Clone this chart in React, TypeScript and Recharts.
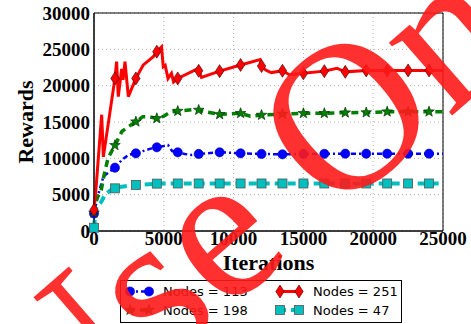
import React from "react";
import {
  CartesianGrid,
  Line,
  LineChart,
  ReferenceArea,
  XAxis,
  YAxis,
} from "recharts";

// iterations / rewards per run
const ITER_BLUE = [0, 300, 670, 1000, 1500, 2000, 2500, 3000, 3500, 4000, 4500, 5000, 5300, 5600, 6000, 6500, 7000, 7500, 9000, 10500, 12000, 13500, 15000, 16500, 18000, 19500, 21000, 22500, 24000, 25000];
const REWARD_BLUE = [2400, 5000, 7470, 8000, 8710, 9800, 10500, 10690, 11000, 11300, 11520, 11700, 11830, 11000, 10830, 10600, 10450, 10600, 10830, 10690, 10600, 10550, 10600, 10620, 10640, 10640, 10640, 10640, 10640, 10640];

const ITER_GREEN = [0, 200, 500, 700, 1000, 1500, 2000, 2500, 3000, 3500, 4000, 4500, 5000, 5500, 6000, 7000, 7500, 8000, 9000, 10500, 11200, 12000, 13500, 15000, 16500, 18000, 19500, 21000, 22500, 24000, 25000];
const REWARD_GREEN = [2500, 4500, 5400, 7500, 10000, 11800, 13700, 14400, 15040, 15730, 15700, 15500, 15800, 16400, 16500, 16700, 16650, 16400, 16050, 16200, 15800, 15960, 16100, 16200, 16200, 16280, 16300, 16420, 16420, 16420, 16420];

const ITER_RED = [0, 150, 550, 670, 1500, 1620, 1740, 1980, 2080, 2220, 2460, 3000, 3530, 4250, 4500, 4840, 4960, 5100, 5300, 5550, 5700, 6000, 7400, 7500, 7700, 9000, 10500, 11900, 12000, 12300, 12700, 13500, 14000, 15000, 16500, 17400, 18000, 19500, 21000, 22500, 24000, 25000];
const REWARD_RED = [2900, 6000, 16000, 10200, 21000, 23300, 18500, 22300, 20800, 23300, 18500, 21000, 22850, 24000, 24680, 25350, 22600, 22800, 21000, 21700, 20500, 21000, 22300, 22050, 21150, 22000, 22850, 23600, 22700, 22150, 21800, 22050, 21500, 21700, 22000, 22400, 21900, 22100, 22100, 22100, 22100, 22100];

const ITER_CYAN = [0, 80, 170, 520, 770, 1120, 1500, 2000, 3000, 4500, 6000, 7500, 9000, 10500, 12000, 13500, 15000, 16500, 18000, 19500, 21000, 22500, 24000, 25000];
const REWARD_CYAN = [450, 2200, 3300, 4000, 4950, 5500, 5870, 6100, 6330, 6520, 6540, 6540, 6540, 6540, 6540, 6540, 6540, 6540, 6540, 6540, 6540, 6540, 6540, 6540];

const X_TICKS = [0, 5000, 10000, 15000, 20000, 25000];
const Y_TICKS = [0, 5000, 10000, 15000, 20000, 25000, 30000];
const MARK_EVERY = 1500;

const zip = (xs: number[], ys: number[]) => xs.map((x, i) => ({ x, y: ys[i] }));

type Shape = "circle" | "star" | "diamond" | "square";

const SERIES: {
  name: string;
  data: { x: number; y: number }[];
  color: string;
  width: number;
  dash?: string;
  shape: Shape;
  edge: string;
}[] = [
  { name: "Nodes = 113", data: zip(ITER_BLUE, REWARD_BLUE), color: "#0000ff", width: 2.5, dash: "5 3 2 3", shape: "circle", edge: "#0000aa" },
  { name: "Nodes = 198", data: zip(ITER_GREEN, REWARD_GREEN), color: "#008000", width: 3.5, dash: "7 5", shape: "star", edge: "#002200" },
  { name: "Nodes = 251", data: zip(ITER_RED, REWARD_RED), color: "#ff0000", width: 3, shape: "diamond", edge: "#330000" },
  { name: "Nodes = 47", data: zip(ITER_CYAN, REWARD_CYAN), color: "#00bfbf", width: 4, dash: "8 5", shape: "square", edge: "#555555" },
];

function Marker({ shape, cx, cy, fill, edge }: { shape: Shape; cx: number; cy: number; fill: string; edge: string }) {
  if (shape === "circle") return <circle cx={cx} cy={cy} r={4.6} fill={fill} stroke={edge} strokeWidth={0.6} />;
  if (shape === "square") return <rect x={cx - 4.5} y={cy - 4.5} width={9} height={9} fill={fill} stroke={edge} strokeWidth={0.8} />;
  if (shape === "diamond")
    return (
      <polygon
        points={`${cx},${cy - 6.5} ${cx + 4.2},${cy} ${cx},${cy + 6.5} ${cx - 4.2},${cy}`}
        fill={fill}
        stroke={edge}
        strokeWidth={0.6}
      />
    );
  const pts: string[] = [];
  for (let i = 0; i < 10; i++) {
    const r = i % 2 === 0 ? 5.6 : 2.3;
    const a = -Math.PI / 2 + (i * Math.PI) / 5;
    pts.push(`${cx + r * Math.cos(a)},${cy + r * Math.sin(a)}`);
  }
  return <polygon points={pts.join(" ")} fill={fill} stroke={edge} strokeWidth={0.6} />;
}

const makeDot = (shape: Shape, fill: string, edge: string) => (props: any) => {
  const { cx, cy, payload, index } = props;
  if (payload == null || payload.x % MARK_EVERY !== 0) return <g key={`n${index}`} />;
  return (
    <g key={`m${index}`}>
      <Marker shape={shape} cx={cx} cy={cy} fill={fill} edge={edge} />
    </g>
  );
};

const tickStyle = { fontFamily: "Liberation Serif", fontWeight: "bold", fontSize: 19, fill: "#000" };

function Legend() {
  const rows = [
    [SERIES[0], SERIES[2]],
    [SERIES[1], SERIES[3]],
  ];
  return (
    <svg width={283} height={44} style={{ position: "absolute", left: 120, top: 280 }}>
      <rect x={0.5} y={0.5} width={281} height={42} fill="#fff" stroke="#000" strokeWidth={1} />
      {rows.map((row, r) =>
        row.map((s, c) => {
          const y = 11.5 + r * 18.5;
          const x0 = c === 0 ? 8 : 158;
          return (
            <g key={s.name}>
              <line x1={x0} x2={x0 + 22} y1={y} y2={y} stroke={s.color} strokeWidth={s.width} strokeDasharray={s.dash} />
              <Marker shape={s.shape} cx={x0 + 2} cy={y} fill={s.color} edge={s.edge} />
              <Marker shape={s.shape} cx={x0 + 21} cy={y} fill={s.color} edge={s.edge} />
              <text x={x0 + 35} y={y} dy="0.35em" fontFamily="DejaVu Sans" fontSize={13} fill="#000">
                {s.name}
              </text>
            </g>
          );
        }),
      )}
    </svg>
  );
}

export default function App() {
  return (
    <div style={{ position: "absolute", left: 0, top: 0, width: 471, height: 324, background: "#fff" }}>
      <LineChart width={471} height={324} margin={{ top: 13, right: 28, bottom: 63, left: 0 }}>
        <CartesianGrid stroke="#9a9a9a" strokeDasharray="1 3" strokeWidth={0.8} />
        <XAxis
          dataKey="x"
          type="number"
          domain={[0, 25000]}
          ticks={X_TICKS}
          allowDuplicatedCategory={false}
          height={30}
          tickSize={0}
          tickMargin={1}
          tick={tickStyle}
          stroke="#000"
          label={{
            value: "Iterations",
            content: () => (
              <text x={268.5} y={270} textAnchor="middle" fontFamily="Liberation Serif" fontWeight="bold" fontSize={22} fill="#000">
                Iterations
              </text>
            ),
          }}
        />
        <YAxis
          type="number"
          domain={[0, 30000]}
          ticks={Y_TICKS}
          width={94}
          tickSize={0}
          tickMargin={4}
          tick={tickStyle}
          stroke="#000"
          label={{
            value: "Rewards",
            content: () => (
              <text
                x={33}
                y={122}
                textAnchor="middle"
                transform="rotate(-90 33 122)"
                fontFamily="Liberation Serif"
                fontWeight="bold"
                fontSize={22}
                fill="#000"
              >
                Rewards
              </text>
            ),
          }}
        />
        <ReferenceArea x1={0} x2={25000} y1={0} y2={30000} fill="none" stroke="#000" strokeWidth={1} />
        {SERIES.map((s) => (
          <Line
            key={s.name}
            data={s.data}
            dataKey="y"
            name={s.name}
            type="linear"
            stroke={s.color}
            strokeWidth={s.width}
            strokeDasharray={s.dash}
            dot={makeDot(s.shape, s.color, s.edge)}
            activeDot={false}
            isAnimationActive={false}
          />
        ))}
      </LineChart>
      <Legend />
      <svg width={471} height={324} style={{ position: "absolute", left: 0, top: 0, pointerEvents: "none" }}>
        <text
          x={48}
          y={467}
          transform="rotate(-41 48 467)"
          fontFamily="Liberation Serif"
          fontSize={210}
          fill="#ff1a1a"
          fillOpacity={0.9}
        >
          Use Only
        </text>
      </svg>
    </div>
  );
}
